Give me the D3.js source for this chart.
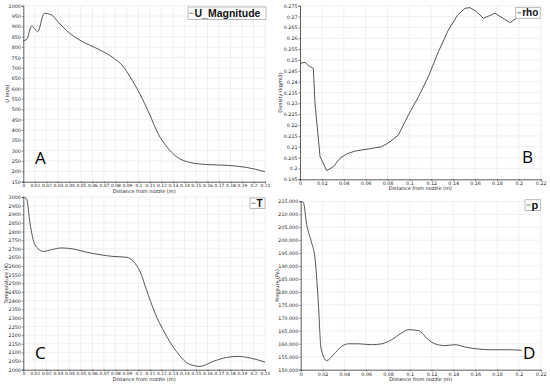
<!DOCTYPE html>
<meta charset="utf-8" />
<script src="https://d3js.org/d3.v7.min.js"></script>
<body style="margin:0;background:#fff">
<svg id="chart" width="550" height="386" style="display:block"></svg>
<script>
/* DATA -------------------------------------------------------------------- */
// velocity magnitude U (m/s) vs distance (m)
const uData=[[0,831],[0.003,837],[0.0072,902],[0.0101,887],[0.0125,874],[0.0182,963],
  [0.0246,955],[0.030,923],[0.0377,879],[0.049,834],[0.0666,786],[0.078,749],[0.087,705],
  [0.0927,657],[0.101,577],[0.110,472],[0.117,383],[0.1246,319],[0.133,271],[0.1448,243],
  [0.159,233],[0.177,229],[0.194,219],[0.21,198]];
// density rho (kg/m3)
const rhoData=[[0,0.2484],[0.0046,0.2489],[0.0076,0.2474],[0.0122,0.2461],[0.0137,0.230],
  [0.0183,0.2055],[0.0244,0.1990],[0.0305,0.2008],[0.0366,0.2047],[0.0427,0.2067],
  [0.0503,0.2080],[0.0625,0.2090],[0.0747,0.2100],[0.0823,0.2123],[0.0899,0.2154],
  [0.099,0.2246],[0.1082,0.233],[0.1173,0.2423],[0.1265,0.2538],[0.1356,0.2638],
  [0.1441,0.2707],[0.1508,0.2738],[0.1554,0.2741],[0.1615,0.2722],[0.1676,0.2692],
  [0.1783,0.2715],[0.192,0.2672],[0.1996,0.2699]];
// temperature T (K)
const tData=[[0,3000],[0.0029,2988],[0.0058,2849],[0.0101,2724],[0.0174,2685],[0.0246,2695],
  [0.0333,2705],[0.0435,2699],[0.055,2680],[0.0666,2666],[0.078,2656],[0.0898,2651],
  [0.0956,2627],[0.1014,2569],[0.107,2463],[0.1144,2328],[0.123,2212],[0.133,2106],
  [0.1434,2035],[0.1535,2019],[0.165,2048],[0.1767,2071],[0.1868,2077],[0.197,2068],[0.21,2044]];
// pressure p (Pa)
const pData=[[0,215000],[0.0024,214600],[0.0055,206000],[0.0101,198900],[0.0131,193100],
  [0.0162,175700],[0.0186,158400],[0.0238,153500],[0.030,155800],[0.0376,159000],
  [0.0437,160000],[0.0529,160000],[0.065,159650],[0.0743,160000],[0.0834,161600],
  [0.0926,164200],[0.0987,165450],[0.1079,165060],[0.117,161600],[0.123,160000],
  [0.1323,159300],[0.1415,159650],[0.1506,158750],[0.1629,157980],[0.175,157700],
  [0.190,157700],[0.2026,157500]];

/* tick values */
const xTicks21=d3.range(0,22).map(i=>i/100);
const xTicks22=d3.range(0,12).map(i=>i*2/100);
const uTicks=d3.range(150,1001,50);
const rhoTicks=d3.range(0,17).map(i=>(195+i*5)/1000);
const tTicks=d3.range(2000,3001,50);
const pTicks=d3.range(150000,215001,5000);

/* PANELS ------------------------------------------------------------------ */
const panels=[
  {data:uData,curve:d3.curveMonotoneX,xd:[0,0.21],yd:[150,1000],xt:xTicks21,yt:uTicks,
   l:23.3,r:265,t:5.7,b:181.7,yTitle:"U (m/s)",yOff:16.5,legend:"U_Magnitude",lg:[188,7,78,12.5,10.5],
   tag:"A",tagXY:[35,164],yf:d=>d,xfs:4.4},
  {data:rhoData,curve:d3.curveLinear,xd:[0,0.22],yd:[0.195,0.275],xt:xTicks22,yt:rhoTicks,
   l:300,r:540.7,t:5.7,b:179.3,yTitle:"Density (kg/m3)",yOff:20,legend:"rho",lg:[515.7,7.3,24.5,11,10],
   tag:"B",tagXY:[522,163],yf:d=>String(+d.toFixed(3)),xfs:4.8},
  {data:tData,curve:d3.curveMonotoneX,xd:[0,0.21],yd:[2000,3000],xt:xTicks21,yt:tTicks,
   l:23.3,r:265,t:197,b:369.7,yTitle:"Temperature (K)",yOff:17,legend:"T",lg:[250,198,15,10.5,10],
   tag:"C",tagXY:[35,359],yf:d=>d,xfs:4.4},
  {data:pData,curve:d3.curveMonotoneX,xd:[0,0.22],yd:[150000,215000],xt:xTicks22,yt:pTicks,
   l:300.7,r:540.7,t:201.3,b:369.7,yTitle:"Pressure (Pa)",yOff:23.5,legend:"p",lg:[525,199.7,15.7,10.8,11],
   tag:"D",tagXY:[523,359],yf:d3.format(","),xfs:4.8}
];

const svg=d3.select("#chart");
const tickFont="DejaVu Sans";

panels.forEach(p=>{
  const x=d3.scaleLinear().domain(p.xd).range([p.l,p.r]);
  const y=d3.scaleLinear().domain(p.yd).range([p.b,p.t]);
  const g=svg.append("g");

  // grid
  g.append("g").selectAll("line").data(p.xt.slice(1)).join("line")
    .attr("x1",d=>x(d)).attr("x2",d=>x(d)).attr("y1",p.t).attr("y2",p.b)
    .attr("stroke","#ececec").attr("stroke-width",0.8);
  g.append("g").selectAll("line").data(p.yt.slice(1)).join("line")
    .attr("y1",d=>y(d)).attr("y2",d=>y(d)).attr("x1",p.l).attr("x2",p.r)
    .attr("stroke","#ececec").attr("stroke-width",0.8);

  // axes
  const xa=g.append("g").attr("transform",`translate(0,${p.b})`)
    .call(d3.axisBottom(x).tickValues(p.xt).tickSize(1.5).tickPadding(1)
      .tickFormat(d=>String(+d.toFixed(2))));
  const ya=g.append("g").attr("transform",`translate(${p.l},0)`)
    .call(d3.axisLeft(y).tickValues(p.yt).tickSize(1.5).tickPadding(1).tickFormat(p.yf));
  [xa,ya].forEach(a=>{
    a.select(".domain").attr("stroke","#333").attr("stroke-width",0.8);
    a.selectAll(".tick line").attr("stroke","#333").attr("stroke-width",0.6);
    a.selectAll("text").attr("font-family",tickFont).attr("font-size",4.8).attr("fill","#222");
  });
  xa.selectAll("text").attr("font-size",p.xfs);

  // titles
  g.append("text").attr("x",(p.l+p.r)/2).attr("y",p.b+11)
    .attr("text-anchor","middle").attr("font-family",tickFont).attr("font-size",5)
    .attr("fill","#222").text("Distance from nozzle (m)");
  g.append("text").attr("transform",`translate(${p.l-p.yOff},${(p.t+p.b)/2}) rotate(-90)`)
    .attr("text-anchor","middle").attr("dy","0.35em").attr("font-family",tickFont).attr("font-size",5)
    .attr("fill","#222").text(p.yTitle);

  // series
  g.append("path").datum(p.data)
    .attr("d",d3.line().x(d=>x(d[0])).y(d=>y(d[1])).curve(p.curve))
    .attr("fill","none").attr("stroke","#555").attr("stroke-width",1);

  // legend
  const [lx,ly,lw,lh,fs]=p.lg;
  g.append("rect").attr("x",lx).attr("y",ly).attr("width",lw).attr("height",lh)
    .attr("fill","#fff").attr("stroke","#aaa").attr("stroke-width",0.8);
  g.append("line").attr("x1",lx+1.5).attr("x2",lx+5.5).attr("y1",ly+lh/2).attr("y2",ly+lh/2)
    .attr("stroke","#555").attr("stroke-width",0.8);
  g.append("text").attr("x",lx+6.5).attr("y",ly+lh/2).attr("dy","0.36em")
    .attr("font-family","Liberation Sans").attr("font-weight","bold").attr("font-size",fs)
    .attr("fill","#111").text(p.legend);

  // panel letter
  g.append("text").attr("x",p.tagXY[0]).attr("y",p.tagXY[1])
    .attr("font-family","Open Sans").attr("font-size",17).attr("fill","#000").text(p.tag);
});
</script>
</body>
